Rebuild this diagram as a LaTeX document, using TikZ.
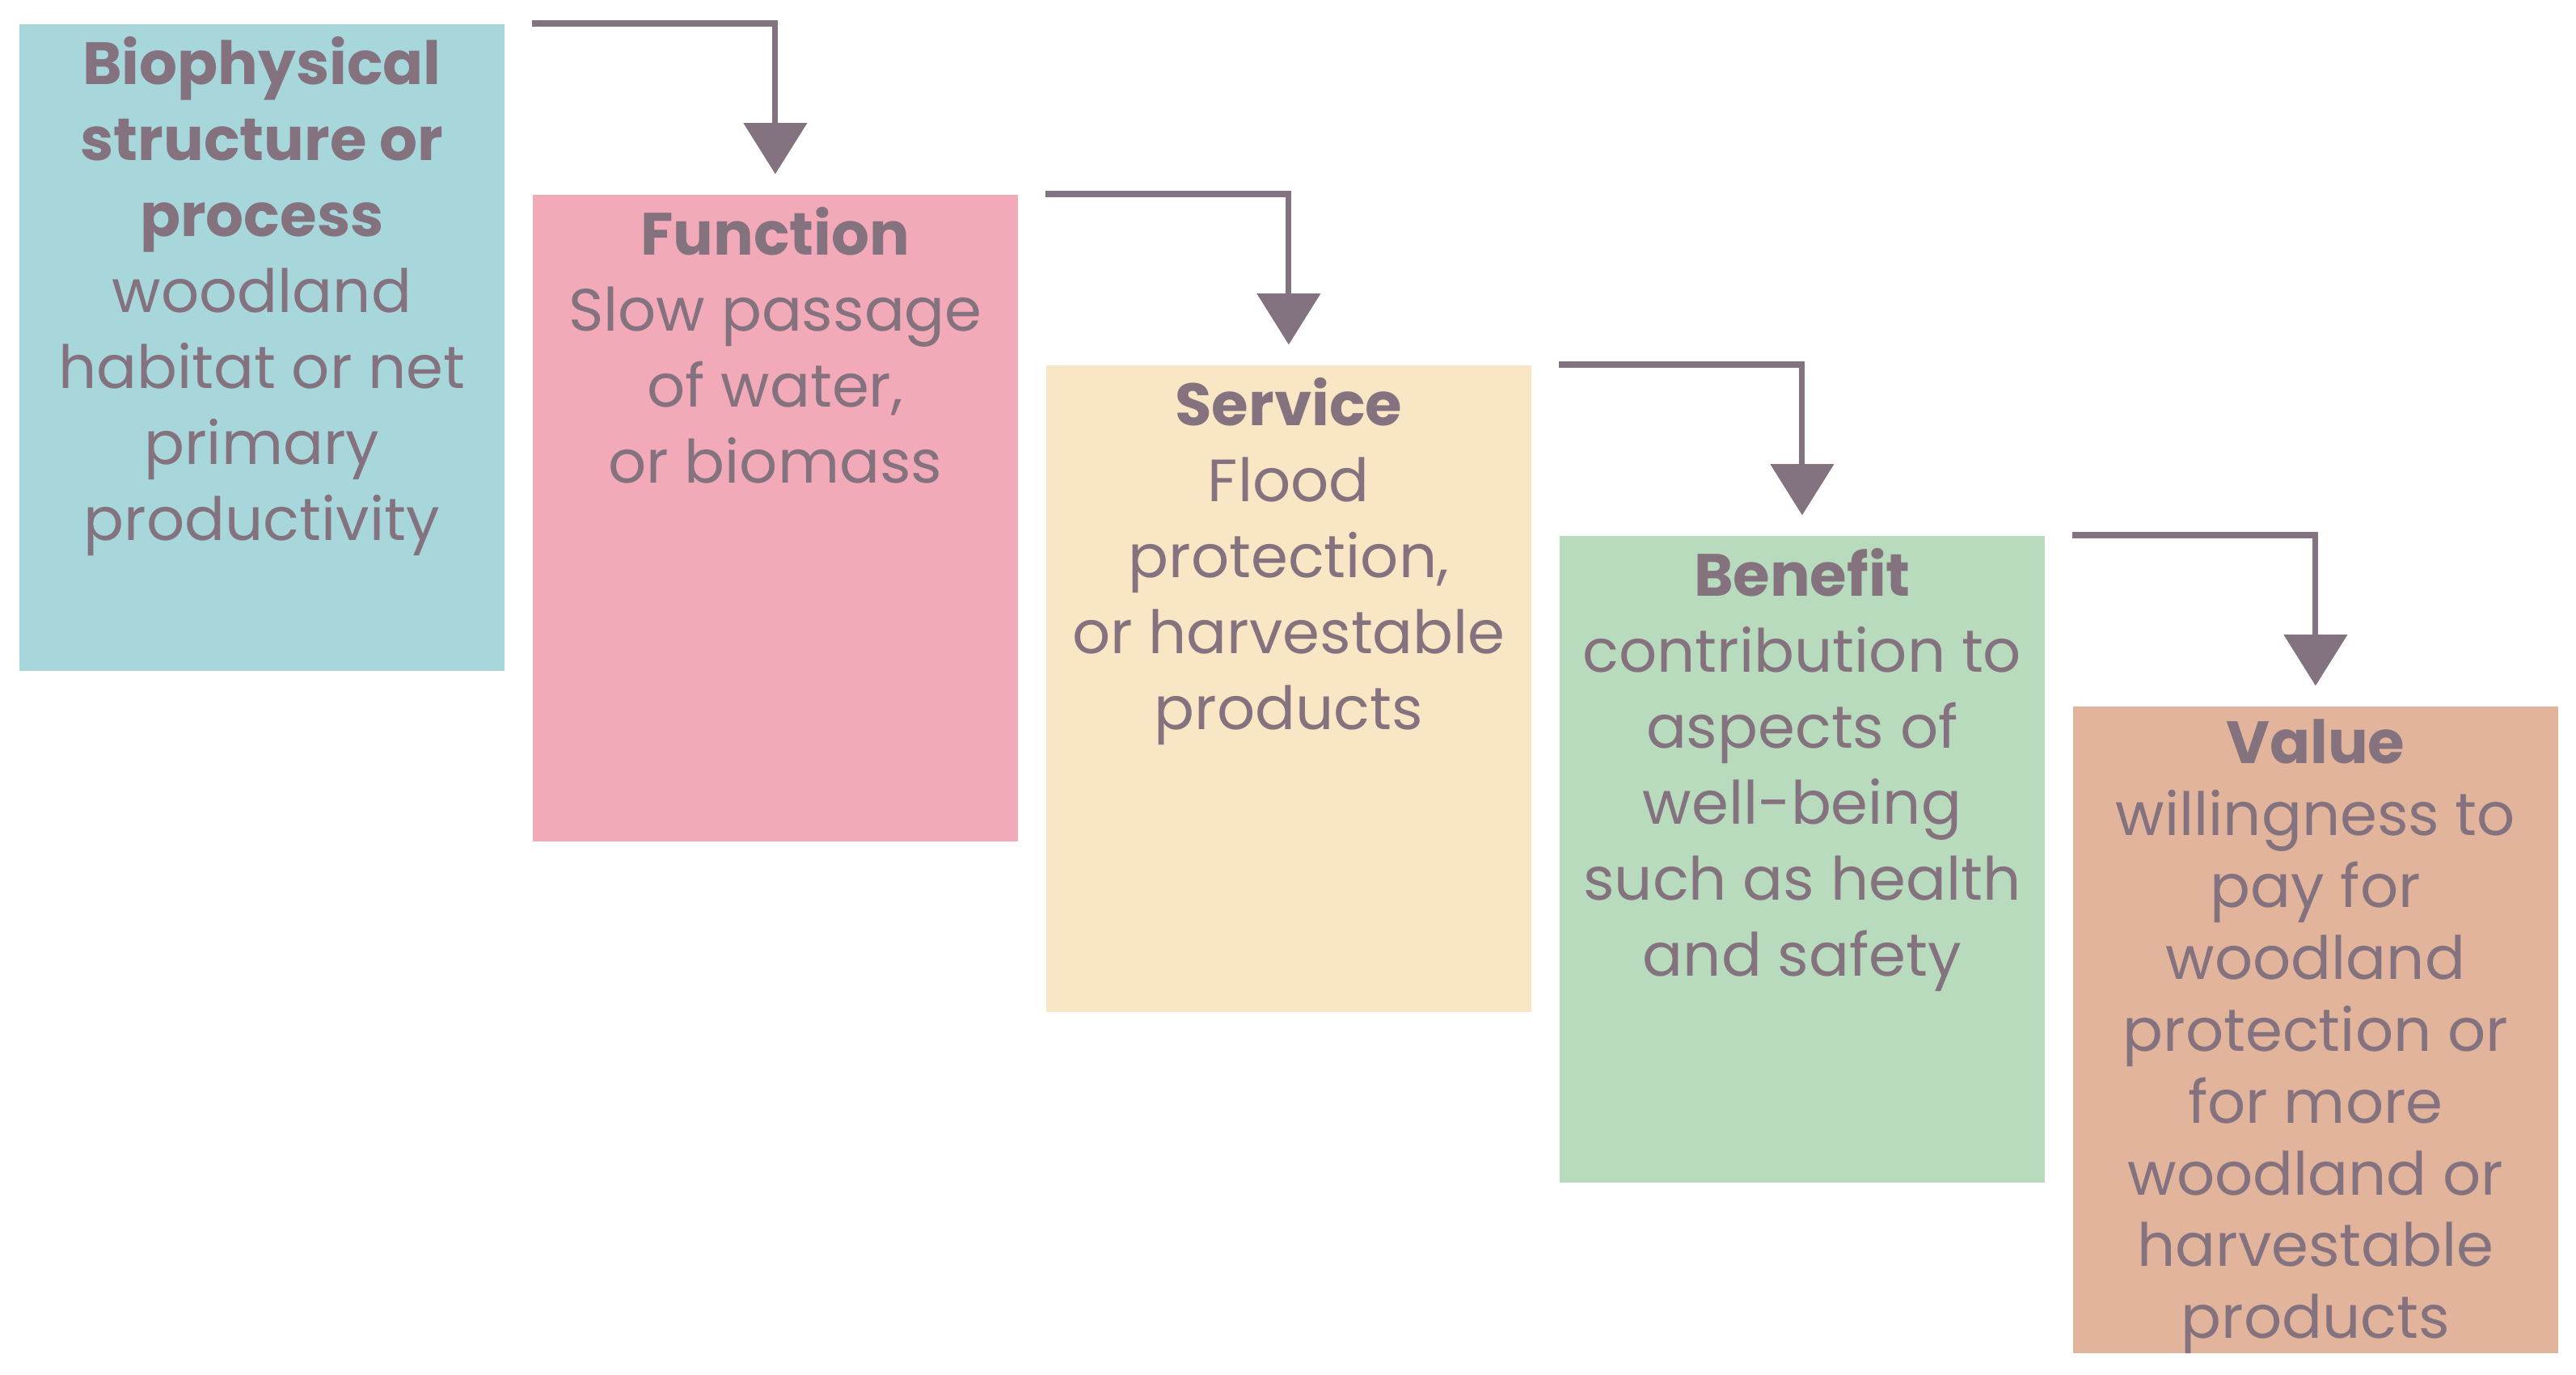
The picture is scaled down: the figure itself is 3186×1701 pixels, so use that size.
\documentclass[tikz,border=0pt]{standalone}
\usepackage{fontspec}
\setmainfont{Poppins}
\usetikzlibrary{arrows.meta,calc}
\definecolor{cteal}{HTML}{A7D7DB}
\definecolor{cpink}{HTML}{F2AAB9}
\definecolor{ccream}{HTML}{F9E6C5}
\definecolor{cgreen}{HTML}{B9DBBD}
\definecolor{csalmon}{HTML}{E2B49C}
\definecolor{ctext}{HTML}{84737F}
\definecolor{carrow}{HTML}{83727F}
\tikzset{
  box/.style={draw=none, minimum width=6cm, minimum height=8cm, anchor=north west, inner sep=0pt},
  boxtext/.style={anchor=north, align=center, inner sep=0pt, text=ctext,
     font=\fontsize{21}{26.7}\selectfont},
  flow/.style={draw=carrow, line width=2pt, -{Triangle[width=22pt,length=18pt]}},
}
\begin{document}
\begin{tikzpicture}[x=0.01cm,y=-0.01cm]
\useasboundingbox (0,0) rectangle (3186,1701);
\node[box, fill=cteal]   (b1) at (23,29) {};
\node[box, fill=cpink]   (b2) at (658,240) {};
\node[box, fill=ccream]  (b3) at (1293,451) {};
\node[box, fill=cgreen]  (b4) at (1928,662) {};
\node[box, fill=csalmon] (b5) at (2563,873) {};
\node[boxtext] (t1) at ([yshift=-4.5pt]b1.north) {\textbf{Biophysical}\\\textbf{structure or}\\\textbf{process}\\woodland\\habitat or net\\primary\\productivity};
\node[boxtext] (t2) at ([yshift=-4.5pt]b2.north) {\textbf{Function}\\Slow passage\\of water,\\or biomass};
\node[boxtext] (t3) at ([yshift=-4.5pt]b3.north) {\textbf{Service}\\Flood\\protection,\\or harvestable\\products};
\node[boxtext] (t4) at ([yshift=-4.5pt]b4.north) {\textbf{Benefit}\\contribution to\\aspects of\\well-being\\such as health\\and safety};
\node[boxtext, font=\fontsize{21}{25.3}\selectfont] (t5) at ([yshift=-4.5pt]b5.north) {\textbf{Value}\\willingness to\\pay for\\woodland\\protection or\\for more\\woodland or\\harvestable\\products};
\draw[flow] (b1.north -| b2.west) -- (b1.north -| b2.north) -- ([yshift=7pt]b2.north);
\draw[flow] (b2.north -| b3.west) -- (b2.north -| b3.north) -- ([yshift=7pt]b3.north);
\draw[flow] (b3.north -| b4.west) -- (b3.north -| b4.north) -- ([yshift=7pt]b4.north);
\draw[flow] (b4.north -| b5.west) -- (b4.north -| b5.north) -- ([yshift=7pt]b5.north);
\end{tikzpicture}
\end{document}
